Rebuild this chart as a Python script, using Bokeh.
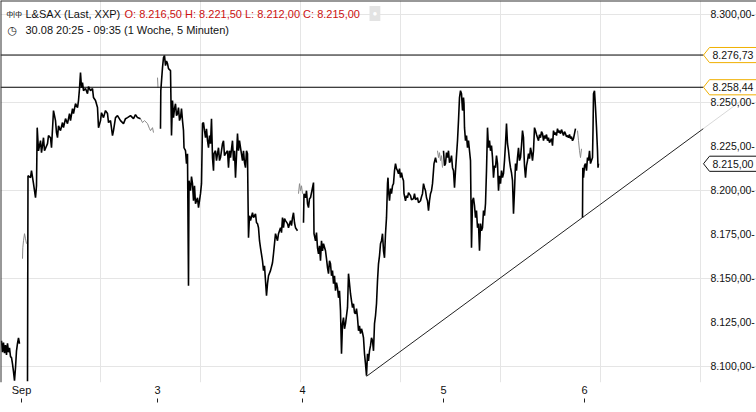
import numpy as np
from bokeh.plotting import figure
from bokeh.models import LinearAxis, FixedTicker, Span, Label
from bokeh.embed import file_html
from bokeh.resources import INLINE

# ---------------- data (time index t ~ 5-minute slots, price) ----------------
fri_t = [1, 2, 3, 4, 5, 6, 7, 8, 9, 10, 11, 12, 13, 14, 15, 16, 17, 18, 19]
fri_p = [8114.5, 8108.0, 8113.4, 8107.5, 8112.0, 8106.5, 8113.0, 8108.0, 8110.5, 8105.5,
         8104.9, 8101.4, 8097.0, 8091.8, 8099.2, 8108.8, 8113.0, 8116.2, 8112.8]

mon_t = [27, 27.5, 30, 31, 33, 34, 35, 36, 36.7, 38, 40, 41, 43, 44, 47, 48, 50, 51, 53, 55,
         56, 57, 58, 60, 62, 63, 65, 67, 69, 70, 72, 73, 75, 77, 78, 79, 80, 81, 82, 83,
         85, 87, 88, 90, 92, 93, 95, 97, 98, 100, 101, 103, 105, 107, 108, 110, 112, 113, 115, 117,
         120, 123, 125, 127, 130, 133, 135, 137, 140]
mon_p = [8091.5, 8208.2, 8207.1, 8211.1, 8203.7, 8199.7, 8195.7, 8202.5, 8235.5, 8222.4,
         8228.1, 8221.3, 8229.8, 8222.4, 8226.4, 8231.0, 8229.8, 8224.1, 8245.2, 8239.5,
         8232.7, 8229.8, 8236.6, 8233.8, 8238.4, 8235.5, 8240.6, 8237.8, 8243.5, 8239.5,
         8246.3, 8243.5, 8249.1, 8246.9, 8250.9, 8257.7, 8266.8, 8258.2, 8261.1, 8256.5,
         8257.7, 8254.8, 8258.8, 8256.5, 8257.7, 8252.6, 8250.9, 8246.9, 8235.5, 8239.5,
         8244.0, 8241.2, 8245.2, 8243.5, 8238.4, 8239.5, 8231.0, 8233.8, 8241.2, 8242.3,
         8239.5, 8237.8, 8240.6, 8241.2, 8242.3, 8240.6, 8242.9, 8241.2, 8240.6]

tue_t = [160, 160.3, 162, 163, 164, 165, 166, 167, 168, 170,
         171, 172, 173, 174, 175, 176, 177, 178, 179, 180,
         181, 182, 183, 183.5, 185, 186, 187, 188, 188.5, 190,
         191, 192, 193, 194, 195, 197, 198, 200, 201, 202,
         203, 204, 205, 206, 207, 208, 209, 210, 211, 212,
         213, 213.5, 215, 216, 217, 218, 219, 220, 222, 223,
         224, 225, 227, 228, 229, 230, 232, 233, 234, 235,
         237, 238, 239, 240, 242, 243, 244, 245, 246, 247,
         247.5, 248, 249, 250, 252, 253, 255, 256, 257, 258,
         259, 260, 262, 263, 264, 265, 266, 267, 268, 270,
         272, 273, 275, 277, 278, 280, 281, 282, 283, 284,
         285, 287, 288, 290, 291, 292, 293, 294, 295, 297]
tue_p = [8234.9, 8256.5, 8269.6, 8275.3, 8276.4, 8270.7, 8273.4, 8271.9, 8269.0, 8267.9,
         8231.0, 8250.9, 8241.2, 8246.3, 8249.1, 8242.3, 8243.5, 8246.9, 8239.5, 8241.2,
         8246.3, 8239.5, 8233.8, 8224.1, 8222.4, 8215.1, 8220.7, 8145.8, 8205.4, 8199.7,
         8207.7, 8203.7, 8194.0, 8202.5, 8192.3, 8195.7, 8190.1, 8198.0, 8203.7, 8237.8,
         8238.4, 8233.8, 8229.8, 8234.9, 8228.1, 8224.1, 8231.0, 8226.4, 8240.6, 8218.5,
         8211.1, 8220.7, 8222.4, 8216.8, 8220.7, 8224.1, 8216.8, 8218.5, 8226.4, 8228.1,
         8219.6, 8220.7, 8222.4, 8212.8, 8222.4, 8218.5, 8228.1, 8216.8, 8222.4, 8207.1,
         8232.1, 8222.4, 8228.1, 8224.1, 8216.8, 8222.4, 8215.6, 8212.8, 8222.4, 8220.7,
         8195.7, 8173.0, 8185.5, 8182.7, 8187.2, 8184.4, 8186.6, 8181.5, 8181.0, 8178.7,
         8171.3, 8167.3, 8159.9, 8154.3, 8157.1, 8148.6, 8140.1, 8146.9, 8151.4, 8154.3,
         8158.8, 8163.9, 8175.3, 8171.3, 8175.3, 8178.7, 8175.9, 8184.4, 8178.7, 8183.8,
         8182.7, 8181.0, 8178.7, 8182.7, 8179.9, 8184.4, 8187.2, 8181.5, 8178.7, 8177.0]

wed_t = [303, 303.5, 305, 306, 307, 308, 309, 310, 312, 313,
         313.5, 315, 316, 317, 318, 319, 320, 321, 322, 323,
         325, 326, 327, 328, 329, 330, 331, 332, 333, 334,
         335, 336, 337, 338, 339, 340, 341, 342, 343, 344,
         345, 346, 347, 348, 349, 350, 351, 352, 353, 354,
         355, 356, 357, 358, 359, 360, 361, 362, 363, 364,
         365, 366, 367, 368, 369, 370, 371, 372, 373, 374,
         375, 376, 377, 378, 379, 380, 381, 382, 383, 384,
         385, 386, 387, 387.5, 388, 389, 390, 391, 392, 393,
         394, 395, 396, 397, 398, 399, 400, 401, 402, 403,
         403.5, 405, 406, 407, 408, 410, 411, 413, 414, 415,
         417, 418, 420, 421, 422, 423, 424, 425, 426, 427,
         428, 429, 430, 431, 432, 433, 433.5, 435, 436]
wed_p = [8181.5, 8198.0, 8195.7, 8199.7, 8192.3, 8190.1, 8195.2, 8195.7, 8201.4, 8204.3,
         8175.3, 8171.3, 8175.9, 8167.3, 8163.9, 8168.4, 8159.9, 8171.3, 8165.6, 8169.6,
         8165.6, 8161.1, 8156.0, 8152.6, 8159.9, 8158.2, 8151.4, 8154.3, 8146.9, 8151.4,
         8142.9, 8147.5, 8144.6, 8138.9, 8142.9, 8131.6, 8107.1, 8124.2, 8127.6, 8121.3,
         8124.2, 8128.7, 8133.3, 8152.6, 8146.9, 8141.2, 8137.2, 8133.3, 8135.5, 8130.4,
         8129.8, 8132.7, 8127.6, 8120.2, 8123.0, 8118.5, 8121.3, 8119.1, 8116.2, 8107.1,
         8101.4, 8094.6, 8107.1, 8103.1, 8108.8, 8111.7, 8116.2, 8114.5, 8108.8, 8124.2,
         8128.7, 8135.5, 8148.6, 8158.2, 8162.7, 8169.6, 8171.3, 8175.3, 8165.6, 8161.6,
         8175.3, 8184.4, 8203.7, 8207.1, 8199.7, 8194.0, 8200.9, 8198.0, 8202.5, 8203.7,
         8211.1, 8215.1, 8212.2, 8211.1, 8209.4, 8212.2, 8207.1, 8209.9, 8207.1, 8205.4,
         8198.0, 8194.0, 8196.9, 8195.7, 8198.6, 8196.9, 8194.6, 8195.2, 8198.0, 8194.6,
         8195.7, 8192.9, 8194.0, 8196.3, 8198.0, 8203.7, 8201.4, 8199.7, 8195.7, 8194.0,
         8188.4, 8194.0, 8198.0, 8199.7, 8203.7, 8211.1, 8215.1, 8218.5, 8215.6]

thu_t = [443, 444, 445, 446, 447, 448, 449, 450, 451, 452,
         453, 454, 455, 456, 457, 458, 459, 460, 461, 462,
         463, 463.5, 464, 465, 466, 467, 468, 469, 470, 471,
         472, 473, 474, 475, 476, 477, 478, 479, 480, 481,
         482, 483, 484, 485, 486, 487, 488, 489, 490, 491,
         492, 493, 494, 495, 496, 497, 498, 499, 500, 501,
         502, 503, 504, 505, 506, 507, 508, 509, 510, 511,
         512, 513, 514, 515, 516, 517, 518, 519, 520, 521,
         522, 523, 523.5, 524, 525, 526, 527, 528, 529, 530,
         531, 532, 533, 534, 535, 536, 537, 538, 539, 540,
         541, 542, 543, 544, 545, 546, 547, 548, 549, 550,
         551, 552, 553, 554, 555, 556, 557, 558, 559, 560,
         561, 562, 563, 564, 565, 566, 567, 568, 569, 570,
         571, 572, 573, 574, 575]
thu_p = [8222.4, 8213.9, 8215.1, 8221.3, 8218.5, 8222.4, 8215.6, 8216.8, 8219.6, 8212.8,
         8211.1, 8201.4, 8211.1, 8219.6, 8228.1, 8239.5, 8252.6, 8256.5, 8254.8, 8245.2,
         8252.6, 8249.1, 8235.5, 8228.1, 8231.0, 8224.1, 8228.1, 8222.4, 8216.8, 8167.3,
         8194.0, 8195.7, 8191.2, 8184.4, 8188.4, 8178.7, 8181.0, 8165.6, 8181.0, 8177.0,
         8178.7, 8188.4, 8185.5, 8192.3, 8211.1, 8235.5, 8224.1, 8228.1, 8222.4, 8225.3,
         8218.5, 8207.1, 8213.9, 8212.8, 8219.6, 8215.1, 8199.7, 8208.2, 8203.7, 8211.1,
         8207.1, 8209.4, 8216.8, 8226.4, 8237.8, 8226.4, 8222.4, 8216.8, 8212.8, 8209.9,
         8205.4, 8186.6, 8199.7, 8215.1, 8211.1, 8218.5, 8224.1, 8216.8, 8218.5, 8225.3,
         8233.8, 8229.8, 8220.7, 8213.9, 8207.1, 8213.9, 8216.8, 8220.7, 8217.9, 8224.1,
         8221.3, 8216.8, 8222.4, 8235.5, 8233.8, 8231.6, 8229.8, 8228.1, 8231.6, 8229.8,
         8233.2, 8232.1, 8228.1, 8231.0, 8229.3, 8231.6, 8228.1, 8229.8, 8227.0, 8228.1,
         8229.3, 8225.3, 8233.8, 8231.6, 8232.7, 8231.0, 8234.9, 8232.7, 8233.8, 8232.1,
         8234.4, 8232.7, 8231.0, 8233.2, 8232.1, 8230.4, 8231.0, 8229.8, 8231.6, 8229.3,
         8230.4, 8228.1, 8229.3, 8232.1, 8234.9]

fri2_t = [582, 582.3, 583, 584, 585, 586, 587, 588, 589, 590,
          591, 592, 592.5, 593, 594, 595, 596, 597, 597.5, 598]
fri2_p = [8184.4, 8212.8, 8207.1, 8213.9, 8215.1, 8211.1, 8218.5, 8216.8, 8222.4, 8215.1,
          8216.8, 8218.5, 8233.8, 8254.8, 8256.5, 8246.9, 8235.5, 8222.4, 8212.8, 8215.0]

# thin, low-activity stretches (pre/after market)
quiet_segments = [
    ([22, 22.3, 23, 24, 25, 26], [8161.1, 8167.3, 8171.3, 8175.3, 8172.4, 8169.6]),
    ([140, 142, 144, 147, 149, 150, 152, 153], [8240.6, 8238.4, 8239.5, 8237.8, 8234.9, 8233.8, 8235.5, 8232.7]),
    ([157, 157.5], [8263.9, 8258.2]),
    ([298, 299, 300, 301, 302], [8198.0, 8203.7, 8199.7, 8202.5, 8198.0]),
    ([437, 438, 439, 440, 441, 442], [8222.4, 8218.5, 8221.3, 8216.8, 8219.6, 8212.8]),
    ([577, 578, 579, 580, 581], [8233.8, 8228.1, 8222.4, 8218.5, 8223.5]),
]

level_high = 8276.73
level_mid = 8258.44
last_close = 8215.00
trend_t = [366, 703]
trend_p = [8094.3, 8235.0]
trend_faint_t = [703, 740]
trend_faint_p = [8235.0, 8250.5]

tag_values = [level_high, level_mid, last_close]
tag_texts = ["8.276,73", "8.258,44", "8.215,00"]
tag_colors = ["#f0b000", "#f0b000", "#111111"]

day_ticks = [21, 157, 302, 443, 584]
day_labels = ["Sep", "3", "4", "5", "6"]
y_ticks = [8100, 8125, 8150, 8175, 8200, 8225, 8250, 8275, 8300]
y_tick_labels = ["8.100,00-", "8.125,00-", "8.150,00-", "8.175,00-", "8.200,00-",
                 "8.225,00-", "8.250,00-", "8.275,00-", "8.300,00-"]
y_tick_labels_shown = [8100, 8125, 8150, 8175, 8200, 8225, 8250, 8300]

header_name = "L&SAX (Last, XXP)"
header_ohlc = "O: 8.216,50  H: 8.221,50  L: 8.212,00  C: 8.215,00"
header_range = "30.08 20:25 - 09:35 (1 Woche, 5 Minuten)"

# ---------------- build ----------------
def join(segs):
    xs, ys = [], []
    for i, (a, b) in enumerate(segs):
        if i:
            xs.append(np.nan)
            ys.append(np.nan)
        xs += list(a)
        ys += list(b)
    return np.array(xs, dtype=float), np.array(ys, dtype=float)

main_x, main_y = join([(fri_t, fri_p), (mon_t, mon_p), (tue_t, tue_p),
                       (wed_t, wed_p), (thu_t, thu_p), (fri2_t, fri2_p)])
q_x, q_y = join(quiet_segments)

FONT = "Liberation Sans"
Y_TOP = 8307.7
AXIS_AT = 703
p = figure(width=756, height=412, x_range=(0, 756), y_range=(8090.8, Y_TOP),
           output_backend="svg", toolbar_location=None,
           x_axis_location=None, y_axis_location=None,
           min_border_left=0, min_border_top=0, min_border_right=0, min_border_bottom=30)
p.outline_line_color = None
p.background_fill_color = "white"
p.border_fill_color = "white"

# price axis drawn inside the frame, at the right edge of the chart area
ya = LinearAxis(ticker=FixedTicker(ticks=y_ticks), fixed_location=AXIS_AT,
                major_label_overrides={t: (lab if t in y_tick_labels_shown else "")
                                       for t, lab in zip(y_ticks, y_tick_labels)},
                axis_line_color=None, major_tick_line_color=None, minor_tick_line_color=None,
                major_tick_out=0, major_tick_in=0, major_label_standoff=7,
                major_label_text_font=FONT, major_label_text_font_size="10.5px",
                major_label_text_color="#111111")
p.add_layout(ya, "right")

xa = LinearAxis(ticker=FixedTicker(ticks=day_ticks),
                major_label_overrides=dict(zip(day_ticks, day_labels)),
                axis_line_color=None, major_tick_line_color=None, minor_tick_line_color=None,
                major_tick_out=0, major_tick_in=0, major_label_standoff=1,
                major_label_text_font=FONT, major_label_text_font_size="11px",
                major_label_text_color="#111111")
p.add_layout(xa, "below")
xt = LinearAxis(ticker=FixedTicker(ticks=day_ticks),
                major_label_overrides={t: "" for t in day_ticks},
                axis_line_color=None, minor_tick_line_color=None,
                major_tick_line_color="#222222", major_tick_out=4, major_tick_in=0,
                major_label_standoff=0, major_label_text_font_size="1px")
p.add_layout(xt, "below")

# frame borders (top and left)
p.add_layout(Span(location=Y_TOP, dimension="width", line_color="#333333", line_width=2))
p.add_layout(Span(location=0, dimension="height", line_color="#333333", line_width=2))

# price series
p.line(q_x, q_y, line_color="#8a8a8a", line_width=1)
p.line(main_x, main_y, line_color="black", line_width=1.6)

# horizontal levels (end at the price tags)
p.segment(x0=[0, 0], y0=[level_high, level_mid], x1=[AXIS_AT, AXIS_AT],
          y1=[level_high, level_mid], line_color="black", line_width=1)

# trend line
p.line(trend_t, trend_p, line_color="#222222", line_width=1)
p.line(trend_faint_t, trend_faint_p, line_color="#d8d8d8", line_width=1)

# price tags on the right (arrow-shaped boxes)
half = 4.3
tag_xs = [[AXIS_AT, AXIS_AT + 6, 762, 762, AXIS_AT + 6] for _ in tag_values]
tag_ys = [[v, v + half, v + half, v - half, v - half] for v in tag_values]
p.patches(tag_xs, tag_ys, fill_color="white", line_color=tag_colors, line_width=1)
for val, txt in zip(tag_values, tag_texts):
    p.add_layout(Label(x=AXIS_AT + 9, y=val, text=txt, text_baseline="middle",
                       text_font=FONT, text_font_size="10.5px", text_color="#111111"))

# header
p.add_layout(Label(x=6, y=8300.3, text="ф|ф", text_baseline="middle",
                   text_font=FONT, text_font_size="8px", text_color="#222222"))
p.add_layout(Label(x=25, y=8300.3, text=header_name, text_baseline="middle",
                   text_font=FONT, text_font_size="11px", text_color="#111111"))
p.add_layout(Label(x=124, y=8300.3, text=header_ohlc, text_baseline="middle",
                   text_font=FONT, text_font_size="11px", text_color="#cc1111"))
p.add_layout(Label(x=369, y=8300.3, text="●", text_baseline="middle",
                   text_font=FONT, text_font_size="8px", text_color="white",
                   background_fill_color="#e3e3e3", padding=3))
p.add_layout(Label(x=7, y=8290.9, text="◷", text_baseline="middle",
                   text_font="DejaVu Sans", text_font_size="11px", text_color="#222222"))
p.add_layout(Label(x=25, y=8290.9, text=header_range, text_baseline="middle",
                   text_font=FONT, text_font_size="11px", text_color="#111111"))

open("out.html", "w").write(file_html(p, INLINE))
